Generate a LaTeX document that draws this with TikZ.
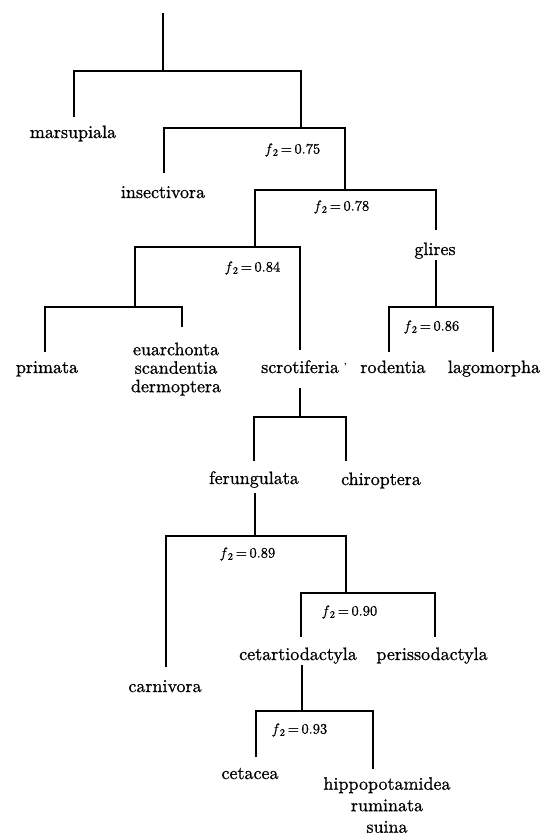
\documentclass[tikz,border=0pt]{standalone}
\usepackage{fontspec}
\setmainfont{lmroman10-regular.otf}[ItalicFont=lmroman10-italic.otf, FakeBold=0.9]
\begin{document}
\begin{tikzpicture}[x=1pt,y=-1pt,
  branch/.style={line width=1.8pt, line join=miter},
  taxon/.style={inner sep=0pt, anchor=base, font=\fontsize{18}{18.5}\selectfont},
  fval/.style={inner sep=0pt, font=\fontsize{14.5}{16}\selectfont}]
\useasboundingbox (0,0) rectangle (549,835);

% ---- labels ----
\node[taxon] (mars) at (73,138) {marsupiala};
\node[taxon] (insect) at (163,198) {insectivora};
\node[taxon] (glires) at (435,255) {glires};
\node[taxon] (primata) at (47,373) {primata};
\node[taxon, anchor=north, align=center] (euarch) at (176,342.5) {euarchonta\\scandentia\\dermoptera};
\node[taxon, anchor=base west] (scro) at (261,373) {scrotiferia\hspace{5pt}\raisebox{4pt}{\fontsize{9}{9}\selectfont'}};
\node[taxon] (rod) at (393,373) {rodentia};
\node[taxon] (lago) at (494,373) {lagomorpha};
\node[taxon] (ferung) at (254,484) {ferungulata};
\node[taxon] (chiro) at (381,485) {chiroptera};
\node[taxon] (carni) at (165,692) {carnivora};
\node[taxon] (cetart) at (298,660) {cetartiodactyla};
\node[taxon] (periss) at (432,660) {perissodactyla};
\node[taxon] (cetacea) at (250,779) {cetacea};
\node[taxon, anchor=north, align=center, font=\fontsize{18}{21.5}\selectfont] (hippo) at (387,777) {hippopotamidea\\ruminata\\suina};

\newcommand{\fv}[1]{\textit{f}\kern0.5pt\textsubscript{2}\,=\,#1}
\node[fval] (fA) at (293,150) {\fv{0.75}};
\node[fval] (fB) at (342,207) {\fv{0.78}};
\node[fval] (fC) at (253,268) {\fv{0.84}};
\node[fval] (fD) at (432,327) {\fv{0.86}};
\node[fval] (fE) at (248,554) {\fv{0.89}};
\node[fval] (fF) at (350,612) {\fv{0.90}};
\node[fval] (fG) at (300,730) {\fv{0.93}};

% ---- junctions and branch ends ----
\coordinate (root) at (163,13);
\coordinate (nA) at (163,71);
\coordinate (eMars) at (74,117);
\coordinate (nB) at (301,128);
\coordinate (eIns) at (164,173);
\coordinate (nC) at (345,190);
\coordinate (eGl) at (436,230);
\coordinate (sGl) at (436,260);
\coordinate (nD) at (436,307);
\coordinate (eRod) at (389,352);
\coordinate (eLago) at (493,352);
\coordinate (nE) at (255,247);
\coordinate (nF) at (135,307);
\coordinate (ePrim) at (45,352);
\coordinate (eEu) at (182,327);
\coordinate (eScro) at (300,350);
\coordinate (sScro) at (300,388);
\coordinate (nG) at (300,417);
\coordinate (eFer) at (254,461);
\coordinate (eChi) at (346,461);
\coordinate (sFer) at (255,493);
\coordinate (nH) at (255,536);
\coordinate (eCarn) at (166,667);
\coordinate (nI) at (346,593);
\coordinate (eCet) at (301,637);
\coordinate (ePer) at (435,637);
\coordinate (sCet) at (302,665);
\coordinate (nJ) at (302,711);
\coordinate (eCtc) at (256,757);
\coordinate (eHip) at (373,769);

% ---- branches ----
\draw[branch] (root) -- (nA);
\draw[branch] (eMars) |- (nA) -| (nB);
\draw[branch] (eIns) |- (nB) -| (nC);
\draw[branch] (nE) |- (nC) -| (eGl);
\draw[branch] (sGl) -- (nD);
\draw[branch] (eRod) |- (nD) -| (eLago);
\draw[branch] (nF) |- (nE) -| (eScro);
\draw[branch] (ePrim) |- (nF) -| (eEu);
\draw[branch] (sScro) -- (nG);
\draw[branch] (eFer) |- (nG) -| (eChi);
\draw[branch] (sFer) -- (nH);
\draw[branch] (eCarn) |- (nH) -| (nI);
\draw[branch] (eCet) |- (nI) -| (ePer);
\draw[branch] (sCet) -- (nJ);
\draw[branch] (eCtc) |- (nJ) -| (eHip);
\end{tikzpicture}
\end{document}
